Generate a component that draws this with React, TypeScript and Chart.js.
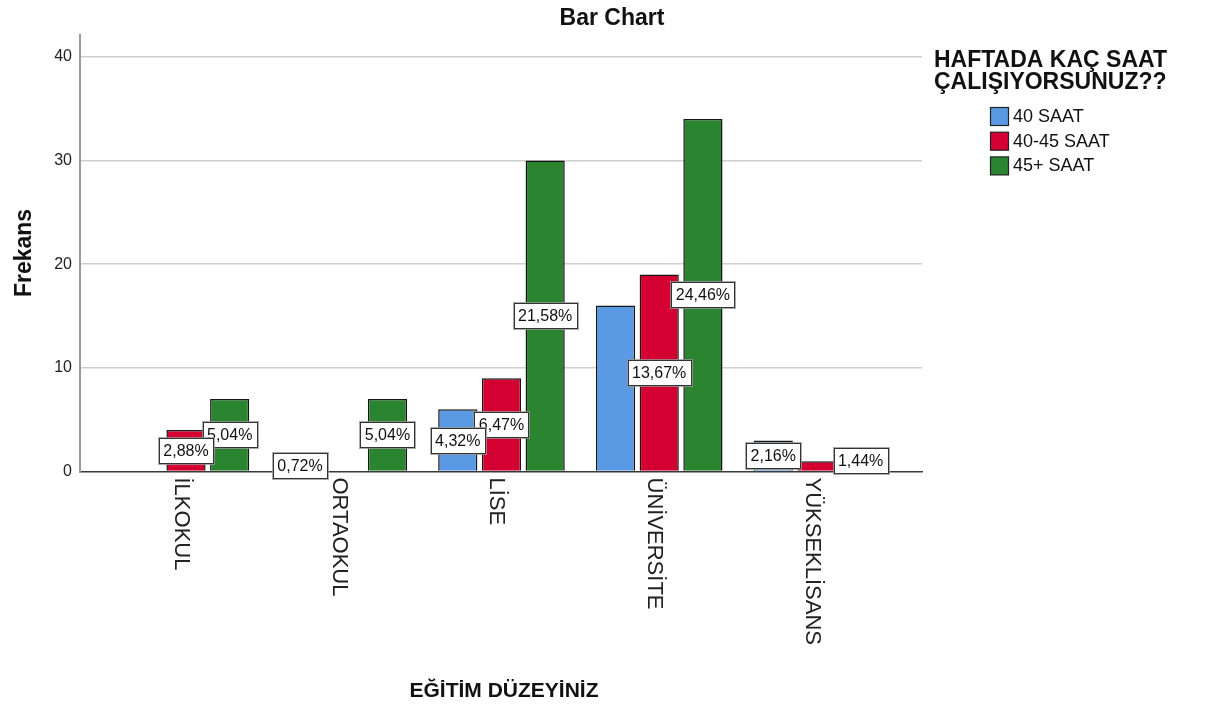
import React, { useEffect, useRef } from 'react';
import { Chart, registerables } from 'chart.js';

Chart.register(...registerables);

const categories = ['İLKOKUL', 'ORTAOKUL', 'LİSE', 'ÜNİVERSİTE', 'YÜKSEKLİSANS'];
const seriesNames = ['40 SAAT', '40-45 SAAT', '45+ SAAT'];
const values40 = [0, 1, 6, 16, 3];
const values4045 = [4, 0, 9, 19, 1];
const values45 = [7, 7, 30, 34, 2];
const labels40: (string | null)[] = [null, '0,72%', '4,32%', null, '2,16%'];
const labels4045: (string | null)[] = ['2,88%', null, '6,47%', '13,67%', null];
const labels45: (string | null)[] = ['5,04%', '5,04%', '21,58%', '24,46%', '1,44%'];
const yTicks = [0, 10, 20, 30, 40];
const chartTitle = 'Bar Chart';
const yTitle = 'Frekans';
const xTitle = 'EĞİTİM DÜZEYİNİZ';
const legendTitle = ['HAFTADA KAÇ SAAT', 'ÇALIŞIYORSUNUZ??'];

const colors = ['#5a9ae4', '#d40032', '#2a8430'];
const FONT = "'Liberation Sans', Arial, sans-serif";

const seriesValues = [values40, values4045, values45];
const seriesLabels = [labels40, labels4045, labels45];

const overlay = {
  id: 'overlay',
  afterDatasetsDraw(chart: any) {
    const ctx = chart.ctx;
    // percentage labels, last series first so earlier ones sit on top
    for (let d = seriesLabels.length - 1; d >= 0; d--) {
      const meta = chart.getDatasetMeta(d);
      seriesLabels[d].forEach((lab, i) => {
        if (!lab) return;
        const el = meta.data[i];
        const x = el.x;
        const y = (el.y + el.base) / 2;
        ctx.save();
        ctx.font = `16px ${FONT}`;
        const tw = ctx.measureText(lab).width;
        const w = Math.round(tw + 9);
        const h = 25;
        const bx = Math.round(x - w / 2) + 0.5;
        const by = Math.round(y - h / 2) + 0.5;
        ctx.fillStyle = '#ffffff';
        ctx.fillRect(bx, by, w, h);
        ctx.strokeStyle = 'rgba(150,150,150,0.8)';
        ctx.lineWidth = 1;
        ctx.strokeRect(bx - 1, by - 1, w + 2, h + 2);
        ctx.strokeStyle = '#333333';
        ctx.strokeRect(bx, by, w, h);
        ctx.fillStyle = '#111111';
        ctx.textAlign = 'center';
        ctx.textBaseline = 'middle';
        ctx.fillText(lab, x, by + h / 2 + 1);
        ctx.restore();
      });
    }
  },
  afterDraw(chart: any) {
    const ctx = chart.ctx;
    const area = chart.chartArea;
    const xs = chart.scales.x;
    ctx.save();
    ctx.fillStyle = '#111111';
    // title
    ctx.font = `bold 23px ${FONT}`;
    ctx.textAlign = 'center';
    ctx.textBaseline = 'alphabetic';
    ctx.fillText(chartTitle, 612, 25);
    // x axis title
    ctx.font = `bold 21px ${FONT}`;
    ctx.fillText(xTitle, 504, 697);
    // y axis title
    ctx.save();
    ctx.translate(31, 253);
    ctx.rotate(-Math.PI / 2);
    ctx.font = `bold 23px ${FONT}`;
    ctx.textAlign = 'center';
    ctx.fillText(yTitle, 0, 0);
    ctx.restore();
    // category labels rotated clockwise
    ctx.font = `22px ${FONT}`;
    ctx.fillStyle = '#222222';
    categories.forEach((c, i) => {
      const x = xs.getPixelForValue(i) - 5;
      ctx.save();
      ctx.translate(x, area.bottom + 6);
      ctx.rotate(Math.PI / 2);
      ctx.textAlign = 'left';
      ctx.textBaseline = 'middle';
      ctx.fillText(c, 0, 0);
      ctx.restore();
    });
    // legend
    ctx.fillStyle = '#111111';
    ctx.font = `bold 23px ${FONT}`;
    ctx.textAlign = 'left';
    ctx.textBaseline = 'alphabetic';
    ctx.fillText(legendTitle[0], 934, 67);
    ctx.fillText(legendTitle[1], 934, 89);
    ctx.font = `18px ${FONT}`;
    seriesNames.forEach((n, i) => {
      const top = 107 + i * 24.7;
      ctx.fillStyle = colors[i];
      ctx.fillRect(990.5, top + 0.5, 18, 18);
      ctx.strokeStyle = '#222222';
      ctx.lineWidth = 1.2;
      ctx.strokeRect(990.5, top + 0.5, 18, 18);
      ctx.fillStyle = '#111111';
      ctx.textBaseline = 'middle';
      ctx.fillText(n, 1013, top + 10);
    });
    ctx.restore();
  },
};

export default function App() {
  const ref = useRef<HTMLCanvasElement | null>(null);
  useEffect(() => {
    if (!ref.current) return;
    const chart = new Chart(ref.current, {
      type: 'bar',
      data: {
        datasets: seriesNames.map((name, d) => ({
          label: name,
          data: seriesValues[d].map((v, i) => ({ x: i, y: v })),
          backgroundColor: colors[d],
          borderColor: '#151515',
          borderWidth: (c: any) => (c.raw && c.raw.y === 0 ? 0 : 1.5),
          borderSkipped: 'start',
        })),
      },
      options: {
        responsive: false,
        animation: false,
        layout: { padding: { top: 35, right: 283, left: 0, bottom: 0 } },
        datasets: { bar: { categoryPercentage: 0.831, barPercentage: 0.897 } } as any,
        plugins: {
          legend: { display: false },
          title: { display: false },
          tooltip: { enabled: false },
        },
        scales: {
          x: {
            type: 'linear',
            offset: false,
            min: -0.672,
            max: 4.666,
            afterBuildTicks: (s: any) => {
              s.ticks = categories.map((_, i) => ({ value: i }));
            },
            afterFit: (s: any) => {
              s.height = 706 - 471.5;
              s.paddingLeft = 0;
              s.paddingRight = 0;
            },
            ticks: { display: false },
            grid: { display: false, drawTicks: false, offset: false },
            border: { color: '#3a3a3a', width: 1.5 },
          },
          y: {
            min: 0,
            max: 42.1,
            afterBuildTicks: (s: any) => {
              s.ticks = yTicks.map((v) => ({ value: v }));
            },
            afterFit: (s: any) => {
              s.width = 80;
              s.paddingTop = 0;
              s.paddingBottom = 0;
            },
            ticks: {
              color: '#222222',
              font: { family: FONT, size: 16 },
              padding: 8,
            },
            grid: {
              color: (c: any) => (c.tick && c.tick.value === 0 ? 'rgba(0,0,0,0)' : '#cfcfcf'),
              lineWidth: 1.5,
              drawTicks: false,
            },
            border: { color: '#9a9a9a', width: 2 },
          },
        },
      } as any,
      plugins: [overlay],
    });
    return () => chart.destroy();
  }, []);
  return (
    <div style={{ position: 'absolute', left: 0, top: 0, width: 1205, height: 706, background: '#fff' }}>
      <canvas ref={ref} width={1205} height={706} style={{ display: 'block' }} />
    </div>
  );
}
